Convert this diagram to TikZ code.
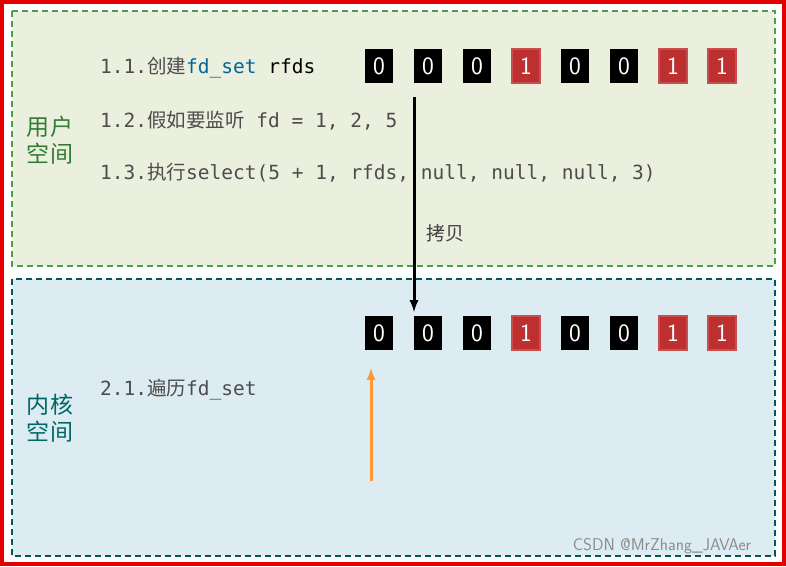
\documentclass[tikz,border=0pt]{standalone}
\usepackage{fontspec}
\setmainfont{Noto Sans CJK SC}
\setmonofont{DejaVu Sans Mono}
\newfontfamily\cjk{Noto Sans CJK SC}
\definecolor{gfill}{RGB}{235,240,222}
\definecolor{bfill}{RGB}{220,236,242}
\definecolor{redbit}{RGB}{190,48,48}
\begin{document}
\begin{tikzpicture}[x=1pt,y=-1pt,
  bit/.style={minimum width=28pt,minimum height=34pt,inner sep=0pt,text=white,font=\fontsize{25}{25}\selectfont\sffamily},
  b0/.style={bit,fill=black},
  b1/.style={bit,fill=redbit,draw=redbit!85!white,line width=1.5pt},
  code/.style={anchor=west,inner sep=0pt,text=black!70,font=\fontsize{19.5}{19.5}\selectfont\ttfamily},
  side/.style={align=center,font=\fontsize{23}{27}\selectfont\cjk}]
\useasboundingbox (0,0) rectangle (786,566);
\fill[white] (0,0) rectangle (786,566);
\draw[line width=1.5pt,green!45!black!70,fill=gfill,dash pattern=on 6pt off 4pt] (12,11) rectangle (775,266);
\draw[line width=1.5pt,teal!70!black,fill=bfill,dash pattern=on 6pt off 4pt] (12,279) rectangle (775,556);
\draw[red!90!black,line width=4pt] (2,2) rectangle (784,564);
\node[side,text=green!35!black!80] (u) at (50,140) {用户\\空间};
\node[side,text=teal!80!black] (k) at (50,418) {内核\\空间};
\node[code] (t1) at (100,68) {1.1.{\cjk 创建}\textcolor{teal!80!blue}{fd\_set} \textcolor{black}{rfds}};
\node[code] (t2) at (100,121) {1.2.{\cjk 假如要监听} fd = 1, 2, 5};
\node[code] (t3) at (100,173) {1.3.{\cjk 执行}select(5 + 1, rfds, null, null, null, 3)};
\node[code] (t4) at (100,390) {2.1.{\cjk 遍历}fd\_set};
\foreach \i/\v in {1/0,2/0,3/0,4/1,5/0,6/0,7/1,8/1}{
  \node[b\v] (a\i) at ({379+49*(\i-1)},66) {\v};
  \node[b\v] (b\i) at ({379+49*(\i-1)},333) {\v};
}
\coordinate (s) at (414,97);
\coordinate (e) at (414,312);
\draw[-latex,line width=3pt] (s) -- (e);
\node[font=\fontsize{19}{19}\selectfont\cjk,text=black!75] (cp) at (445,233) {拷贝};
\coordinate (os) at (371,481);
\coordinate (oe) at (371,368);
\draw[-latex,line width=3pt,orange!80!white] (os) -- (oe);
\node[font=\fontsize{17}{17}\selectfont\sffamily,text=black!45] (wm) at (662,546) {CSDN @MrZhang\_JAVAer};
\end{tikzpicture}
\end{document}
